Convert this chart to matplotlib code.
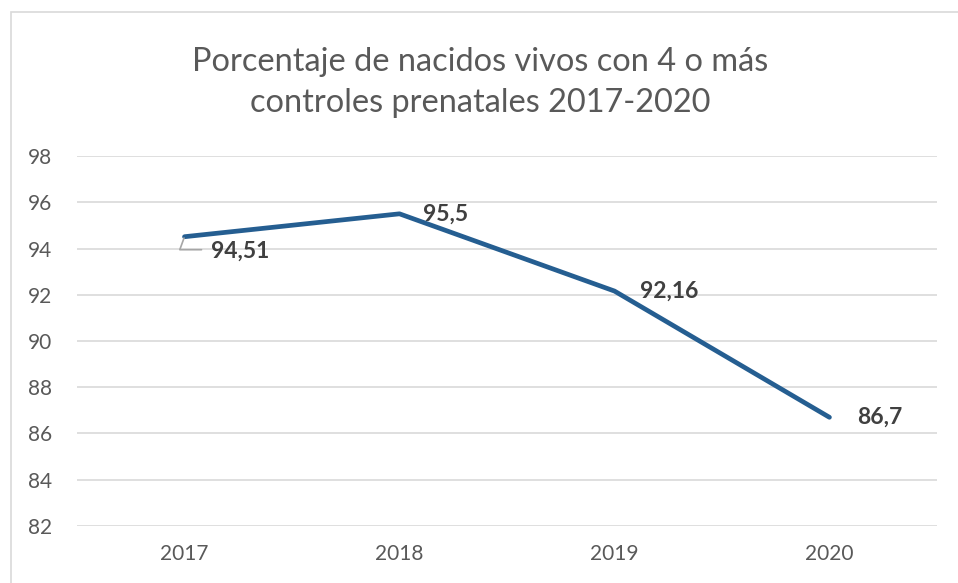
import matplotlib.pyplot as plt
from matplotlib.patches import Rectangle

years = ["2017", "2018", "2019", "2020"]
values = [94.51, 95.5, 92.16, 86.7]
labels = ["94,51", "95,5", "92,16", "86,7"]
yticks = [82, 84, 86, 88, 90, 92, 94, 96, 98]

plt.rcParams["font.family"] = ["Lato", "DejaVu Sans"]

fig = plt.figure(figsize=(9.58, 5.83), dpi=100)
ax = fig.add_axes([0.0804, 0.0978, 0.8976, 0.6346])

# chart border (cut off at right and bottom like the source)
fig.patches.append(Rectangle((11 / 958, -0.05), 1.1, 1 - 12 / 583 + 0.05,
                             transform=fig.transFigure, fill=False,
                             edgecolor="#D9D9D9", linewidth=1.2))

x = range(len(years))
ax.plot(x, values, color="#255E91", linewidth=3.4, solid_capstyle="round", zorder=3)

# data labels, placed to the right of each point
offsets = [(26, -14), (24, 0), (26, 0), (28, 0)]
for i, (v, lab) in enumerate(zip(values, labels)):
    dx, dy = offsets[i]
    ax.annotate(lab, (i, v), xytext=(dx, dy), textcoords="offset pixels",
                ha="left", va="center", fontsize=16.5, fontweight="bold",
                color="#404040")
# leader line for first label
ax.annotate("", (0, values[0]), xytext=(17, -13), textcoords="offset pixels",
            arrowprops=dict(arrowstyle="-", color="#A6A6A6", lw=1.2,
                            connectionstyle="angle,angleA=0,angleB=70,rad=0",
                            shrinkA=0, shrinkB=1))

ax.set_xlim(-0.5, len(years) - 0.5)
ax.set_ylim(82, 98)
ax.set_xticks(list(x))
ax.set_xticklabels(years)
ax.set_yticks(yticks)
ax.tick_params(length=0, labelsize=15, colors="#595959")
ax.tick_params(axis="x", pad=13)
ax.tick_params(axis="y", pad=18)
ax.grid(axis="y", color="#D9D9D9", linewidth=1.2)
ax.set_axisbelow(True)
for s in ax.spines.values():
    s.set_visible(False)

fig.text(0.501, 0.858, "Porcentaje de nacidos vivos con 4 o más\ncontroles prenatales 2017-2020",
         ha="center", va="center", fontsize=23.4, color="#595959",
         fontweight="normal", linespacing=1.45)

fig.savefig("out.png", dpi=100)
